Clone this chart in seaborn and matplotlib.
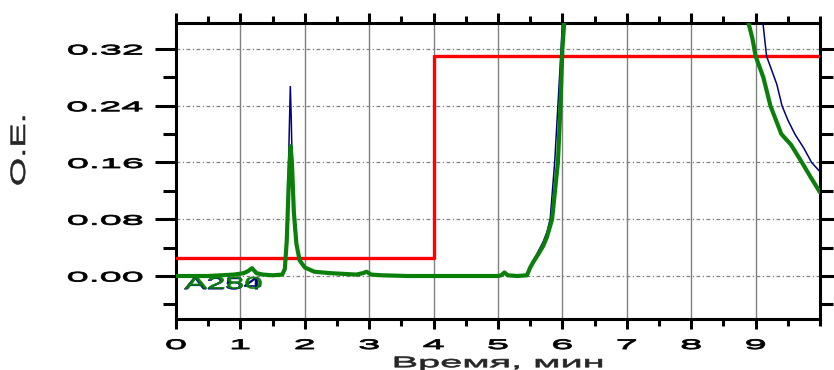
import numpy as np
import pandas as pd
import matplotlib
matplotlib.use('Agg')
import matplotlib.pyplot as plt
import seaborn as sns
from matplotlib.patheffects import AbstractPathEffect
from matplotlib.transforms import Affine2D
from matplotlib.ticker import MultipleLocator

# градиент (красная ступенька)
grad_x = [0.0, 4.0, 10.0]
grad_y = [0.025, 0.31, 0.31]

# A280 (зелёная)
a280_x = [0, 0.5, 0.9, 1.05, 1.12, 1.18, 1.25, 1.35, 1.5, 1.65, 1.69, 1.72, 1.75, 1.78, 1.80,
          1.83, 1.87, 1.92, 2.0, 2.15, 2.4, 2.8, 2.9, 2.96, 3.03, 3.2, 3.6, 4.0, 4.5, 5.0,
          5.05, 5.1, 5.15, 5.3, 5.45, 5.5, 5.55, 5.62, 5.7, 5.76, 5.84, 5.93, 5.97, 6.0,
          6.03, 6.1, 8.8, 8.88, 8.95, 9.0, 9.12, 9.23, 9.4, 9.55, 9.72, 9.85, 10.0]
a280_y = [0.0, 0.0, 0.002, 0.004, 0.007, 0.011, 0.004, 0.002, 0.001, 0.002, 0.01, 0.05, 0.13,
          0.183, 0.16, 0.09, 0.045, 0.022, 0.012, 0.006, 0.004, 0.002, 0.004, 0.006, 0.002,
          0.001, 0.0, 0.0, 0.0, 0.0, 0.001, 0.005, 0.001, 0.0, 0.001, 0.012, 0.02, 0.03,
          0.042, 0.055, 0.08, 0.16, 0.24, 0.32, 0.36, 0.6, 0.6, 0.36, 0.335, 0.31, 0.28,
          0.24, 0.20, 0.185, 0.16, 0.14, 0.118]

# A254 (синяя)
a254_x = [0, 0.5, 0.9, 1.05, 1.12, 1.18, 1.25, 1.35, 1.5, 1.65, 1.69, 1.72, 1.75, 1.775, 1.79,
          1.81, 1.84, 1.88, 1.93, 2.0, 2.15, 2.4, 2.8, 2.9, 2.96, 3.03, 3.2, 3.6, 4.0, 4.5,
          5.0, 5.05, 5.1, 5.15, 5.3, 5.45, 5.5, 5.55, 5.62, 5.7, 5.76, 5.81, 5.88, 5.93,
          5.98, 6.0, 6.08, 9.05, 9.11, 9.17, 9.25, 9.33, 9.41, 9.5, 9.61, 9.75, 9.87, 10.0]
a254_y = [0.0, 0.0, 0.002, 0.004, 0.007, 0.011, 0.004, 0.002, 0.001, 0.002, 0.01, 0.06, 0.17,
          0.267, 0.22, 0.13, 0.065, 0.035, 0.02, 0.013, 0.006, 0.004, 0.002, 0.004, 0.006,
          0.002, 0.001, 0.0, 0.0, 0.0, 0.0, 0.001, 0.005, 0.001, 0.0, 0.001, 0.012, 0.022,
          0.034, 0.048, 0.062, 0.08, 0.16, 0.24, 0.32, 0.36, 0.6, 0.6, 0.36, 0.31, 0.29,
          0.27, 0.24, 0.22, 0.20, 0.18, 0.16, 0.147]

x_ticks = [0, 1, 2, 3, 4, 5, 6, 7, 8, 9]
y_ticks = [0.00, 0.08, 0.16, 0.24, 0.32]
y_ticklabels = ['0.00', '0.08', '0.16', '0.24', '0.32']


# растягиваем текст по ширине (+ лёгкая обводка), как в исходной программе
class Stretch(AbstractPathEffect):
    def __init__(self, sx=1.0, sy=1.0, anchor='center', stroke=0.0):
        super().__init__()
        self.sx, self.sy, self.anchor, self.stroke = sx, sy, anchor, stroke

    def draw_path(self, renderer, gc, tpath, affine, rgbFace=None):
        ext = tpath.get_extents(affine)
        cx = ext.x1 if self.anchor == 'right' else (ext.x0 + ext.x1) / 2
        cy = (ext.y0 + ext.y1) / 2
        t = affine + Affine2D().translate(-cx, -cy).scale(self.sx, self.sy).translate(cx, cy)
        if self.stroke > 0:
            gc0 = renderer.new_gc()
            gc0.copy_properties(gc)
            gc0.set_foreground(rgbFace)
            gc0.set_linewidth(self.stroke)
            renderer.draw_path(gc0, tpath, t, rgbFace)
            gc0.restore()
        else:
            renderer.draw_path(gc, tpath, t, rgbFace)


sns.set_style('white')
plt.rcParams['font.family'] = ['Liberation Sans', 'DejaVu Sans']

fig = plt.figure(figsize=(8.34, 3.70), dpi=100)
ax = fig.add_axes([176 / 834, 1 - 319 / 370, 644 / 834, 296 / 370])

sns.lineplot(x=grad_x, y=grad_y, ax=ax, color='#ff0000', lw=2.4, drawstyle='steps-post',
             sort=False, estimator=None, zorder=3)
sns.lineplot(x=a254_x, y=a254_y, ax=ax, color='#000080', lw=1.1, sort=False, estimator=None, zorder=4)
sns.lineplot(x=a280_x, y=a280_y, ax=ax, color='#0a800a', lw=3.0, sort=False, estimator=None, zorder=5)

ax.set_xlim(0, 10)
ax.set_ylim(-0.0606, 0.3566)

ax.set_xticks(x_ticks)
ax.xaxis.set_minor_locator(MultipleLocator(0.5))
ax.set_yticks(y_ticks)
ax.set_yticklabels(y_ticklabels)
ax.yaxis.set_minor_locator(MultipleLocator(0.04))

ax.xaxis.grid(True, which='major', color='#808080', lw=1.0, ls='-')
ax.yaxis.grid(True, which='major', color='#808080', lw=0.9, ls=(0, (3, 2, 1, 2)))
ax.set_axisbelow(True)

for s in ax.spines.values():
    s.set_visible(True)
    s.set_color('black')
    s.set_linewidth(2.2)

ax.tick_params(axis='both', which='both', direction='out', top=True, right=True,
               bottom=True, left=True, width=2.2, color='black', labelcolor='black')
ax.tick_params(axis='y', which='major', length=15, pad=9, labelsize=10)
ax.tick_params(axis='y', which='minor', length=9.5)
ax.tick_params(axis='x', which='major', length=7.2, pad=6.5, labelsize=10)
ax.tick_params(axis='x', which='minor', length=5)

for lbl in ax.get_yticklabels():
    lbl.set_path_effects([Stretch(sx=2.85, anchor='right', stroke=0.6)])
for lbl in ax.get_xticklabels():
    lbl.set_path_effects([Stretch(sx=2.85, stroke=0.6)])

ax.set_xlabel('Время, мин', fontsize=11, labelpad=3)
ax.xaxis.label.set_path_effects([Stretch(sx=2.6, stroke=0.5)])

ax.set_ylabel('О.Е.', fontsize=15)
ax.yaxis.set_label_coords((19.5 - 176) / 644, (319 - 150) / 296)
ax.yaxis.label.set_va('center')
ax.yaxis.label.set_path_effects([Stretch(sy=1.75, stroke=0.4)])

# подписи каналов (наложены друг на друга, как в исходнике)
ax.text(0.728, -0.0122, 'A254', color='#000080', fontsize=12, ha='center', va='center',
        path_effects=[Stretch(sx=2.0, stroke=0.4)], zorder=6)
ax.text(0.74, -0.0113, 'A280', color='#0a800a', fontsize=12, ha='center', va='center',
        path_effects=[Stretch(sx=2.0, stroke=0.4)], zorder=7)

plt.savefig('out.png', dpi=100)
plt.close()
